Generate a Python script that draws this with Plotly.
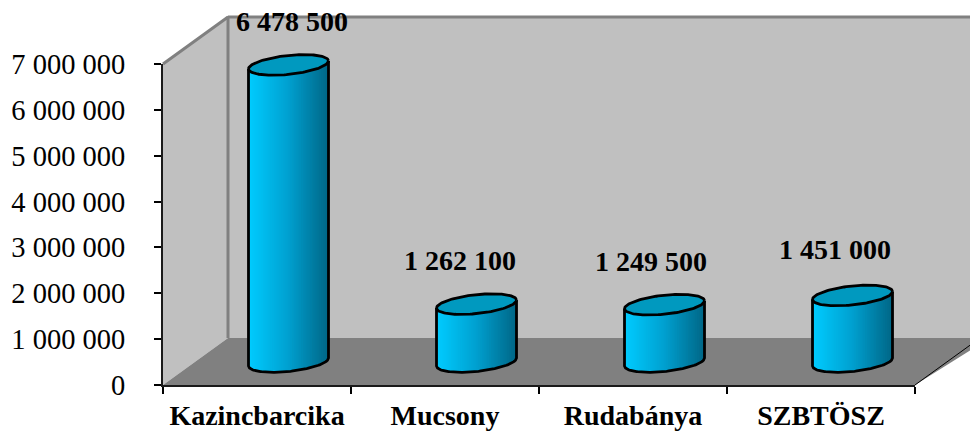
import numpy as np
import plotly.graph_objects as go

# data
categories = ['Kazincbarcika', 'Mucsony', 'Rudabánya', 'SZBTÖSZ']
values = [6478500, 1262100, 1249500, 1451000]
value_labels = ['6 478 500', '1 262 100', '1 249 500', '1 451 000']
y_ticks = [0, 1000000, 2000000, 3000000, 4000000, 5000000, 6000000, 7000000]
y_tick_labels = ['0', '1 000 000', '2 000 000', '3 000 000', '4 000 000',
                 '5 000 000', '6 000 000', '7 000 000']

W, H = 970, 431
X0, X1, Y0, Y1 = 163, 915, 385, 64   # front plot box in pixels
ux = (X1 - X0) / len(categories)     # pixels per category
uy = (Y0 - Y1) / 7000000             # pixels per value unit


def dx(px):
    return px / ux


def dy(px):
    return px / uy


DEPTH_X, DEPTH_Y = dx(65), dy(47)
RIGHT = dx(990 - X0)
GREY, WALL = '#808080', '#C0C0C0'

fig = go.Figure()


def poly(xs, ys, fill=None, line=None, width=0):
    # xy is a full page axis pair on the same scale as the visible x2/y2
    fig.add_trace(go.Scatter(
        x=xs, y=ys, mode='lines', hoverinfo='skip', showlegend=False,
        fill='toself' if fill else None, fillcolor=fill,
        line=dict(color=line or 'rgba(0,0,0,0)', width=width)))


# walls and floor
top = 7000000
poly([DEPTH_X, RIGHT, RIGHT, DEPTH_X], [DEPTH_Y, DEPTH_Y, top + DEPTH_Y, top + DEPTH_Y], fill=WALL)
poly([0, DEPTH_X, DEPTH_X, 0], [0, DEPTH_Y, top + DEPTH_Y, top], fill=WALL)
poly([0, DEPTH_X, RIGHT, 4], [0, DEPTH_Y, DEPTH_Y, 0], fill=GREY)
poly([0, DEPTH_X, DEPTH_X], [top, top + DEPTH_Y, DEPTH_Y], line=GREY, width=3)
poly([DEPTH_X, RIGHT], [top + DEPTH_Y, top + DEPTH_Y], line=GREY, width=3)
poly([4, 4 + DEPTH_X], [0, DEPTH_Y], line='#000000', width=1)

# cylinders
OFFSET_X = dx(31.5)      # cylinder centre, from the slot centre
BASE = dy(23)            # cylinder base centre above zero
A, B, TILT = dx(40), dy(9.5), dy(4)
N_STRIPS = 44
LEFT_COL = np.array([0, 204, 255])
MID_COL = np.array([0, 160, 208])
RIGHT_COL = np.array([0, 104, 136])


def strip_colour(f):
    if f < 0.5:
        c = LEFT_COL + (MID_COL - LEFT_COL) * f * 2
    else:
        c = MID_COL + (RIGHT_COL - MID_COL) * (f - 0.5) * 2
    return 'rgb(%d,%d,%d)' % tuple(c)


for i, val in enumerate(values):
    cx = i + 0.5 + OFFSET_X
    t = np.linspace(0, 2 * np.pi, 121)
    ex = A * np.cos(t)
    ey = B * np.sin(t) + TILT * np.cos(t)

    # side, as narrow strips so the shading runs left to right
    edges = np.linspace(-1, 1, N_STRIPS + 1)
    for j in range(N_STRIPS):
        u = np.linspace(edges[j], edges[j + 1] + 0.02, 4)
        bottom = -B * np.sqrt(1 - np.clip(u, -1, 1) ** 2) + TILT * u
        xs = cx + A * np.clip(u, -1, 1)
        poly(np.r_[xs, xs[::-1]],
             np.r_[BASE + bottom, (BASE + val + TILT * u)[::-1]],
             fill=strip_colour(j / (N_STRIPS - 1)))

    # outline of the side
    u = np.linspace(-1, 1, 81)
    bottom = -B * np.sqrt(1 - u ** 2) + TILT * u
    poly(np.r_[cx - A, cx + A * u, cx + A],
         np.r_[BASE + val - TILT, BASE + bottom, BASE + val + TILT],
         line='#000000', width=2.8)

    # top face
    poly(cx + ex, BASE + val + ey, fill='#0099BF', line='#000000', width=2.8)

# value labels: the page axes, since the top one lies above the value axis
label_nudge = [35, 15, 18, 14]
label_lift = [64, 64, 64, 66]
fig.add_trace(go.Scatter(
    x=[i + 0.5 + dx(n) for i, n in enumerate(label_nudge)],
    y=[v + dy(n) for v, n in zip(values, label_lift)],
    text=value_labels, mode='text', hoverinfo='skip', showlegend=False,
    textposition='middle center',
    textfont=dict(family='Liberation Serif', size=28, color='#000000'),
    texttemplate='<b>%{text}</b>'))

# keeps the visible axes in the figure
fig.add_trace(go.Scatter(
    x=[i + 0.5 for i in range(len(categories))], y=values, xaxis='x2', yaxis='y2',
    mode='markers', marker=dict(opacity=0), hoverinfo='skip', showlegend=False))

hidden = dict(visible=False, fixedrange=True)
fig.update_layout(
    width=W, height=H, autosize=False,
    margin=dict(l=0, r=0, t=0, b=0, autoexpand=False),
    paper_bgcolor='white', plot_bgcolor='rgba(0,0,0,0)',
    xaxis=dict(hidden, domain=[0, 1], range=[-X0 / ux, (W - X0) / ux]),
    yaxis=dict(hidden, domain=[0, 1], range=[-(H - Y0) / uy, Y0 / uy]),
    xaxis2=dict(domain=[X0 / W, X1 / W], range=[0, 4], anchor='y2', showgrid=False, zeroline=False,
                showline=True, linecolor='#1a1a1a', linewidth=2,
                tickmode='array', tickvals=[i + 0.5 for i in range(4)],
                ticktext=['<b>%s</b>' % c for c in categories], ticks='', ticklabelstandoff=4,
                tickfont=dict(family='Liberation Serif', size=28, color='#000000'),
                minor=dict(tickmode='array', tickvals=[0, 1, 2, 3, 4], ticks='outside',
                           ticklen=7, tickwidth=1.5, tickcolor='#000000', showgrid=False)),
    yaxis2=dict(domain=[(H - Y0) / H, (H - Y1) / H], range=[0, 7000000], anchor='x2', showgrid=False,
                zeroline=False, showline=True, linecolor='#1a1a1a', linewidth=2,
                tickmode='array', tickvals=y_ticks, ticktext=y_tick_labels,
                ticks='outside', ticklen=7, tickwidth=1.5, tickcolor='#000000', ticklabelstandoff=23,
                tickfont=dict(family='Liberation Serif', size=28.5, color='#000000')),
)

fig.write_html('out.html', config=dict(displayModeBar=False),
               post_script="document.body.style.margin='0';")
